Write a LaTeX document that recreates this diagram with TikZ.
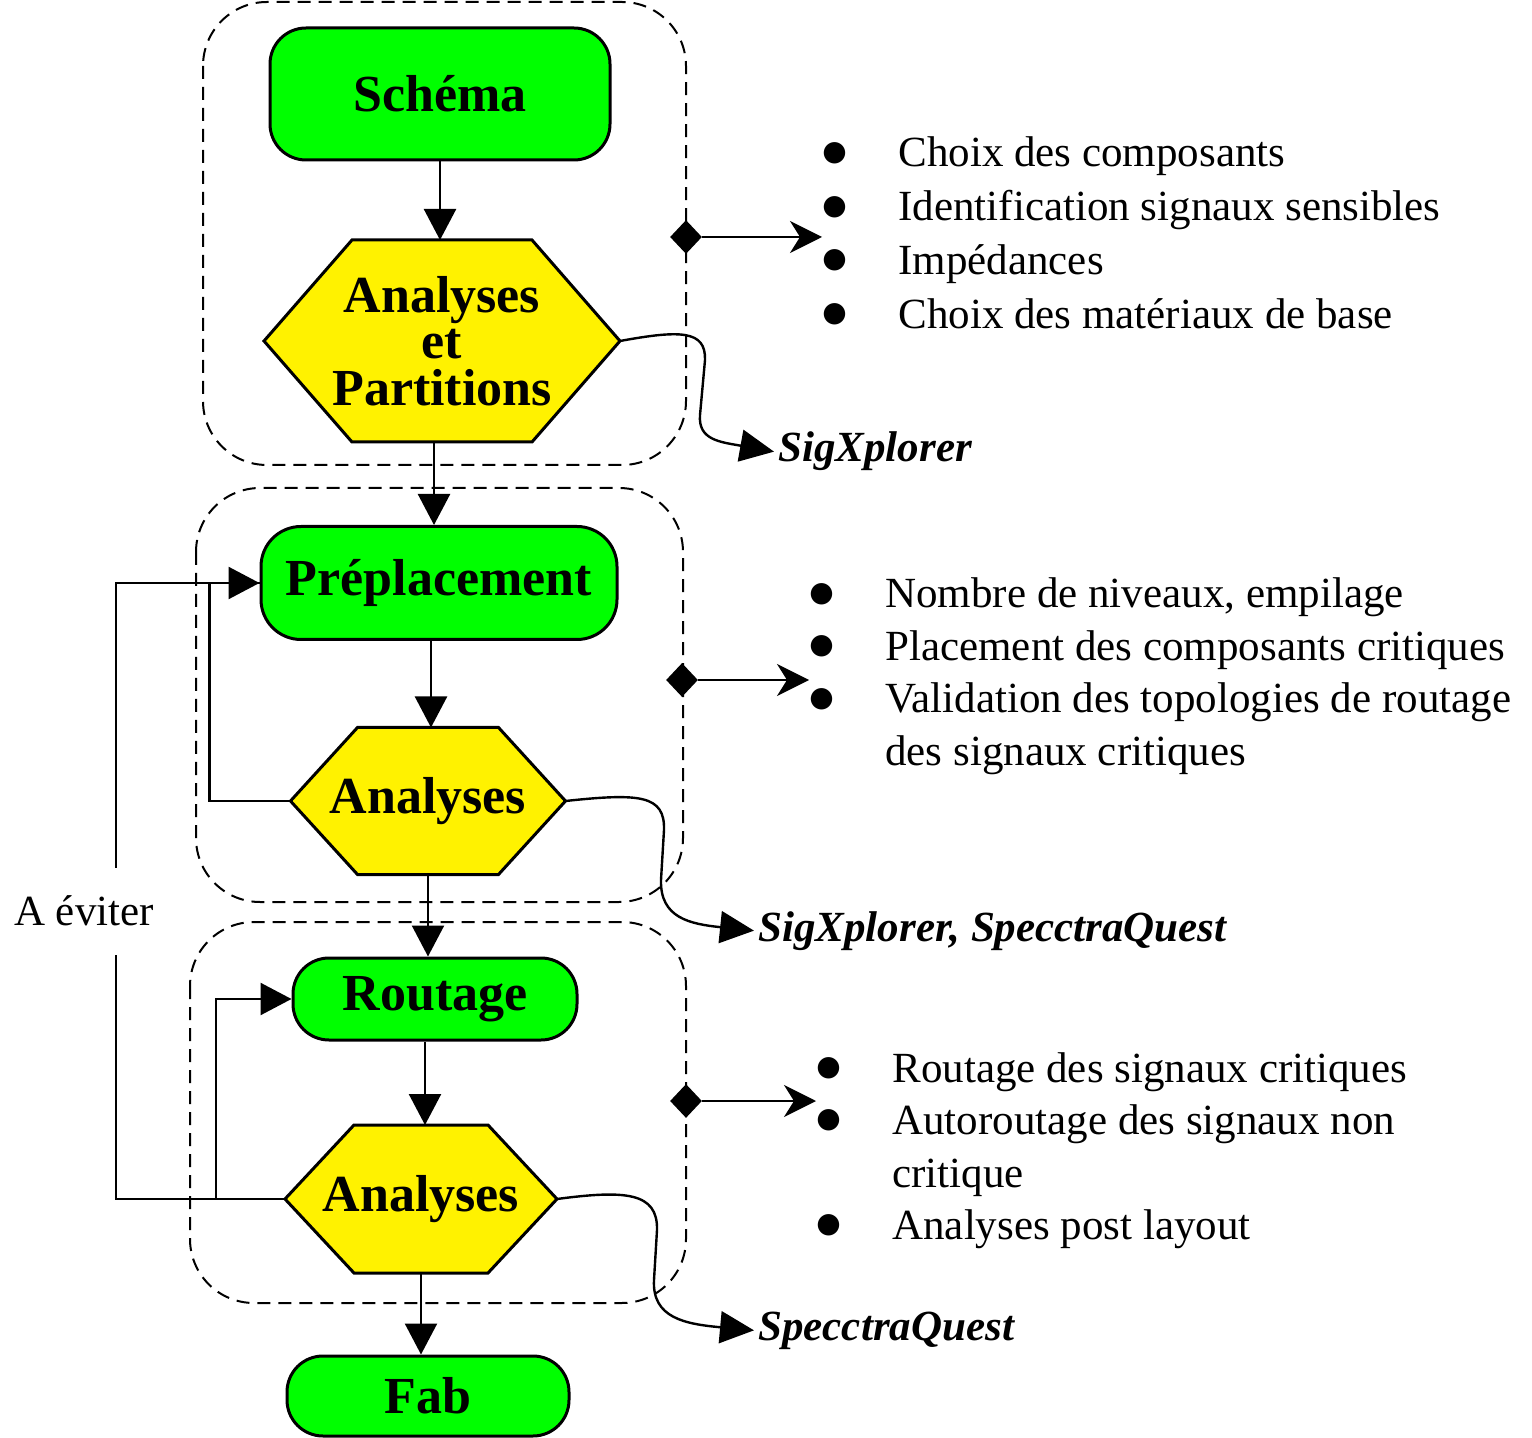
\documentclass[tikz,border=0pt]{standalone}
\usepackage{fontspec}
\setmainfont{Liberation Serif}
\newfontfamily\symfont{DejaVu Sans}
\usetikzlibrary{arrows.meta}
\usetikzlibrary{shapes.geometric}
\usetikzlibrary{backgrounds}

\begin{document}
\begin{tikzpicture}[
				x=0.5pt, y=-0.5pt,
				line join=miter,
				stage/.style={draw, line width=1.5pt, fill=green, rounded corners=18pt, inner sep=0pt,
					font=\bfseries\fontsize{26}{23.25}\selectfont},
				check/.style={inner sep=0pt, outer sep=0pt, align=center,
					font=\bfseries\fontsize{26}{23.25}\selectfont},
				hexline/.style={draw, line width=1.5pt, fill=yellow},
				group/.style={dash pattern=on 6.5pt off 4pt, line width=1pt, rounded corners=32pt},
				flow/.style={line width=1.2pt, -{Triangle[length=15.5pt,width=16pt]}},
				link/.style={line width=1.2pt, -{Stealth[length=16pt,width=16pt,inset=5pt]}},
				tool/.style={line width=1.2pt, -{Triangle[length=17pt,width=16pt]}},
				hook/.style={diamond, fill=black, minimum width=16pt, minimum height=17pt, inner sep=0pt},
				notes/.style={anchor=base west, inner sep=0pt, font=\fontsize{21.5}{26.25}\selectfont},
				toolname/.style={anchor=base west, inner xsep=2pt, inner ysep=0pt,
					font=\bfseries\itshape\fontsize{21.5}{24}\selectfont}
				]
				\useasboundingbox (0,0) rectangle (1532,1438);
				\def\dotmark{\raisebox{3.3pt}{\symfont\fontsize{14}{14}\selectfont ●}}
				
				% Dashed groups
				\draw[group] (203,2) rectangle (686,465);
				\draw[group] (196,488) rectangle (683,902);
				\draw[group] (190,922) rectangle (686,1303);
				
				% Flow steps
				\node[stage, minimum width=170pt, minimum height=66pt] (sch) at (440,94) {Schéma};
				\node[check, minimum width=178pt, minimum height=101pt] (ap) at (442,341) {Analyses\\et\\Partitions};
				\node[stage, minimum width=178pt, minimum height=56.5pt, rounded corners=20pt] (prep) at (439,583) {Préplacement};
				\node[check, minimum width=137.5pt, minimum height=73.5pt] (an1) at (428,801) {Analyses};
				\node[stage, minimum width=142pt, minimum height=41pt] (rout) at (435,999) {Routage};
				\node[check, minimum width=136pt, minimum height=74pt] (an2) at (421,1199) {Analyses};
				\node[stage, minimum width=141pt, minimum height=40pt] (fab) at (428,1396) {Fab};
				
				% Hexagons behind the analysis texts
				\begin{scope}[on background layer]
					\foreach \n/\d in {ap/44pt, an1/33.5pt, an2/34.5pt}
					\draw[hexline] (\n.west) -- ([xshift=\d]\n.north west) -- ([xshift=-\d]\n.north east)
						-- (\n.east) -- ([xshift=-\d]\n.south east) -- ([xshift=\d]\n.south west) -- cycle;
				\end{scope}
				
				\draw[flow] (sch.south) -- (sch.south |- ap.north);
				\draw[flow] ([xshift=-4pt]ap.south) -- ([xshift=-4pt]ap.south |- prep.north);
				\draw[flow] ([xshift=-4pt]prep.south) -- ([xshift=-4pt]prep.south |- an1.north);
				\draw[flow] (an1.south) -- (an1.south |- rout.north);
				\draw[flow] ([xshift=-5pt]rout.south) -- ([xshift=-5pt]rout.south |- an2.north);
				\draw[flow] (an2.south) -- (an2.south |- fab.north);
				
				% Loops back
				\draw[flow] (an2.west) -- ++(-169,0) |- (prep.west);
				\draw[line width=1.2pt] (an1.west) -- ++(-81,0) |- (prep.west);
				\draw[flow] (an2.west) -- ++(-69,0) |- (rout.west);
				\node[fill=white, inner xsep=2pt, minimum height=43.5pt, font=\fontsize{21.5}{24}\selectfont] (avoid) at (84,911) {A éviter};
				
				% Notes on each group
				\node[hook] (h1) at (686,237) {};
				\node[hook] (h2) at (682,680) {};
				\node[hook] (h3) at (686,1101) {};
				
				\node[notes, font=\fontsize{21.5}{26.85}\selectfont] (n1) at (822,167) {\begin{tabular}[t]{@{}p{38pt}@{}l@{}}
						\dotmark & Choix des composants\\
						\dotmark & Identification signaux sensibles\\
						\dotmark & Impédances\\
						\dotmark & Choix des matériaux de base
				\end{tabular}};
				\node[notes] (n2) at (809,608) {\begin{tabular}[t]{@{}p{38pt}@{}l@{}}
						\dotmark & Nombre de niveaux, empilage\\
						\dotmark & Placement des composants critiques\\
						\dotmark & Validation des topologies de routage\\
						& des signaux critiques
				\end{tabular}};
				\node[notes] (n3) at (816,1082) {\begin{tabular}[t]{@{}p{38pt}@{}l@{}}
						\dotmark & Routage des signaux critiques\\
						\dotmark & Autoroutage des signaux non\\
						& critique\\
						\dotmark & Analyses post layout
				\end{tabular}};
				
				\draw[link] (h1) -- (h1 -| n1.west);
				\draw[link] (h2) -- (h2 -| n2.west);
				\draw[link] (h3) -- (h3 -| n3.west);
				
				% Tools
				\node[toolname] (t1) at (774,462) {SigXplorer};
				\node[toolname] (t2) at (754,941) {SigXplorer, SpecctraQuest};
				\node[toolname] (t3) at (754,1340) {SpecctraQuest};
				
				\draw[tool] (ap.east) .. controls (680,330) and (706,330) .. (705,360) -- (700,415) .. controls (698,440) and (720,442) .. (t1.west);
				\draw[tool] (an1.east) .. controls (640,793) and (665,795) .. (664,830) -- (661,880) .. controls (660,918) and (690,924) .. (t2.west);
				\draw[tool] (an2.east) .. controls (625,1190) and (658,1192) .. (657,1230) -- (654,1280) .. controls (652,1318) and (685,1324) .. (t3.west);
			\end{tikzpicture}
\end{document}
